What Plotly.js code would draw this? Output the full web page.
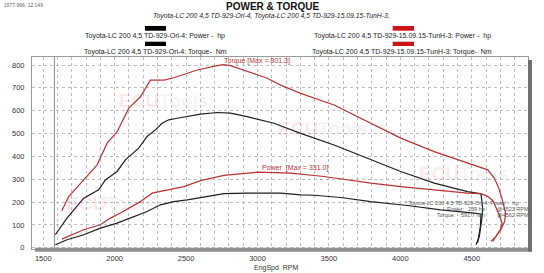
<!DOCTYPE html>
<html>
<head>
<meta charset="utf-8">
<script src="https://cdn.plot.ly/plotly-3.0.1.min.js"></script>
<style>html,body{margin:0;padding:0;background:#fff;}#chart{width:544px;height:273px;}</style>
</head>
<body>
<div id="chart"></div>
<script>
// ---- data ----
const oriTorqueRpm = [1584, 1666, 1783, 1888, 1935, 2017, 2075, 2168, 2227, 2285, 2332, 2379, 2438, 2508, 2601, 2718, 2811, 2928, 3115, 3302, 3536, 3770, 4003, 4237, 4471, 4565, 4577, 4570, 4553, 4530];
const oriTorque    = [57, 130, 217, 254, 297, 334, 385, 436, 487, 516, 545, 560, 567, 574, 585, 592, 589, 574, 545, 501, 450, 392, 334, 283, 246, 236, 170, 122, 49, 13];

const oriPowerRpm = [1584, 1666, 1783, 1900, 2017, 2133, 2227, 2320, 2414, 2508, 2601, 2765, 2928, 3162, 3302, 3396, 3583, 3793, 4050, 4284, 4518, 4565, 4560, 4541];
const oriPower    = [13, 35, 57, 86, 108, 137, 159, 188, 202, 210, 220, 237, 239, 239, 232, 230, 220, 202, 185, 166, 152, 148, 90, 21];

const tunTorqueRpm = [1630, 1678, 1783, 1877, 1947, 2017, 2098, 2180, 2250, 2344, 2402, 2484, 2578, 2718, 2760, 2811, 2905, 3068, 3162, 3302, 3536, 3770, 4003, 4237, 4471, 4612, 4658, 4690, 4712, 4730, 4738, 4730, 4705, 4670, 4635];
const tunTorque    = [162, 224, 297, 363, 458, 508, 610, 661, 734, 734, 742, 759, 778, 797, 801.3, 797, 778, 742, 712, 676, 625, 552, 480, 421, 370, 341, 305, 260, 215, 175, 150, 115, 80, 50, 28];

const tunPowerRpm = [1630, 1783, 1900, 1970, 2040, 2122, 2180, 2262, 2367, 2484, 2601, 2765, 2998, 3232, 3466, 3630, 3793, 4003, 4237, 4471, 4565, 4612, 4650, 4683, 4705, 4712, 4700, 4675, 4647];
const tunPower    = [38, 79, 101, 130, 152, 181, 202, 239, 254, 268, 294, 317, 331, 327, 312, 297, 283, 268, 254, 239, 237, 225, 205, 160, 125, 105, 80, 55, 28];

const yTicks = [0, 100, 200, 300, 400, 500, 600, 700, 800];
const xTicks = [1500, 2000, 2500, 3000, 3500, 4000, 4500];
const cursorRpm = 1577.966;

const titleText = "POWER & TORQUE";
const subtitleText = "Toyota-LC 200 4,5 TD-929-Ori-4, Toyota-LC 200 4,5 TD-929-15.09.15-TunH-3,";
const legendNames = [
  "Toyota-LC 200 4,5 TD-929-Ori-4: Power -  hp",
  "Toyota-LC 200 4,5 TD-929-Ori-4: Torque-  Nm",
  "Toyota-LC 200 4,5 TD-929-15.09.15-TunH-3: Power -  hp",
  "Toyota-LC 200 4,5 TD-929-15.09.15-TunH-3: Torque-  Nm"
];

// ---- styles ----
const FONT = "Liberation Sans, Arial, sans-serif";
const RED = "#b93333";
const BLK = "#1e1e1e";
const GRID = "#bdbdbd";

const traces = [
  {x: oriPowerRpm, y: oriPower, mode: "lines", line: {color: BLK, width: 1.2}, name: legendNames[0]},
  {x: oriTorqueRpm, y: oriTorque, mode: "lines", line: {color: BLK, width: 1.2}, name: legendNames[1]},
  {x: tunPowerRpm, y: tunPower, mode: "lines", line: {color: RED, width: 1.2}, name: legendNames[2]},
  {x: tunTorqueRpm, y: tunTorque, mode: "lines", line: {color: RED, width: 1.2}, name: legendNames[3]}
];

// paper helpers (plot area: x 32..528, y 57..249 px)
const px = v => (v - 32) / 496;
const py = v => (249 - v) / 192;

function wm(cx, cy) {
  return {xref: "paper", yref: "paper", x: px(cx), y: py(cy), xanchor: "center", yanchor: "middle",
    text: '<span style="color:rgba(225,80,80,0.15)">ECU</span><span style="color:rgba(140,140,140,0.11)">Tools</span>',
    showarrow: false, font: {family: FONT, size: 19, weight: "bold"}};
}
function txt(cx, cy, t, size, opts) {
  return Object.assign({xref: "paper", yref: "paper", x: px(cx), y: py(cy), xanchor: "center", yanchor: "middle",
    text: t, showarrow: false, font: {family: FONT, size: size, color: "#222"}}, opts || {});
}

const annotations = [
  wm(163, 100), wm(110, 203), wm(322, 128), wm(463, 173),
  txt(272.5, 6.8, "<b>" + titleText + "</b>", 10, {font: {family: FONT, size: 10, color: "#111"}}),
  txt(271, 16, "<i>" + subtitleText + "</i>", 6.8, {font: {family: FONT, size: 6.8, color: "#222"}}),
  txt(155, 36.3, legendNames[0], 7),
  txt(155, 52, legendNames[1], 7),
  txt(402, 36.3, legendNames[2], 7),
  txt(402, 52, legendNames[3], 7),
  txt(2, 5, "1577.966, 12.149", 5, {xanchor: "left", font: {family: FONT, size: 5, color: "#666"}}),
  txt(257, 61, "Torque [Max = 801.3]", 7, {font: {family: FONT, size: 7, color: RED}}),
  txt(294.5, 168.3, "Power  [Max = 331.0]", 7, {font: {family: FONT, size: 7, color: RED}}),
  txt(461, 203, "'' Toyota-LC 200 4,5 TD-929-Ori-4: Power -  hp", 5.5, {font: {family: FONT, size: 5.5, color: "#555"}}),
  txt(467, 209, "Power:", 5.5, {xanchor: "right", font: {family: FONT, size: 5.5, color: "#555"}}),
  txt(487, 209, "239 hp", 5.5, {xanchor: "right", font: {family: FONT, size: 5.5, color: "#555"}}),
  txt(495, 209, "@4523 RPM", 5.5, {xanchor: "left", font: {family: FONT, size: 5.5, color: "#555"}}),
  txt(458, 215, "Torque:", 5.5, {xanchor: "right", font: {family: FONT, size: 5.5, color: "#555"}}),
  txt(487, 215, "591.7 Nm", 5.5, {xanchor: "right", font: {family: FONT, size: 5.5, color: "#555"}}),
  txt(495, 215, "@4562 RPM", 5.5, {xanchor: "left", font: {family: FONT, size: 5.5, color: "#555"}}),
  txt(276.5, 268, "EngSpd  RPM", 7, {font: {family: FONT, size: 7, color: "#333"}})
];

const shapes = [
  // legend swatches
  {type: "rect", xref: "paper", yref: "paper", x0: px(145), x1: px(166), y0: py(30.7), y1: py(26), fillcolor: "#000", line: {width: 0}},
  {type: "rect", xref: "paper", yref: "paper", x0: px(145), x1: px(166), y0: py(46), y1: py(41.7), fillcolor: "#000", line: {width: 0}},
  {type: "rect", xref: "paper", yref: "paper", x0: px(392.7), x1: px(414), y0: py(30.7), y1: py(26), fillcolor: "#cc1515", line: {width: 0}},
  {type: "rect", xref: "paper", yref: "paper", x0: px(392.7), x1: px(414), y0: py(46), y1: py(41.7), fillcolor: "#cc1515", line: {width: 0}},
  // cursor line
  {type: "line", xref: "x", yref: "paper", x0: cursorRpm, x1: cursorRpm, y0: 0, y1: 1, line: {color: "#8a8a8a", width: 1}},
  // bottom scroll bar and right shadow bar
  {type: "rect", xref: "paper", yref: "paper", x0: px(35), x1: 1, y0: py(251.8), y1: py(247.8), fillcolor: "#8f8f8f", line: {width: 0}},
  {type: "rect", xref: "paper", yref: "paper", x0: 1, x1: px(532), y0: py(251.8), y1: py(60), fillcolor: "#6f6f6f", line: {width: 0}}
];

const layout = {
  width: 544, height: 273,
  margin: {l: 32, r: 16, t: 57, b: 24, pad: 0},
  paper_bgcolor: "#fff", plot_bgcolor: "#fff",
  showlegend: false,
  font: {family: FONT, size: 7.5, color: "#333"},
  xaxis: {
    range: [1421, 4894], tickmode: "array", tickvals: xTicks, ticktext: xTicks.map(String),
    showgrid: true, gridcolor: GRID, griddash: "dot", gridwidth: 1,
    minor: {dtick: 100, tick0: 1500, showgrid: true, gridcolor: GRID, griddash: "dot", gridwidth: 1},
    zeroline: false, showline: true, mirror: true, linecolor: "#9a9a9a", linewidth: 1,
    ticks: "", ticklabelstandoff: 2, tickfont: {family: FONT, size: 7.5, color: "#333"}
  },
  yaxis: {
    range: [-5.3, 835], tickmode: "array", tickvals: yTicks, ticktext: yTicks.map(String),
    showgrid: true, gridcolor: GRID, griddash: "dot", gridwidth: 1,
    zeroline: false, showline: true, mirror: true, linecolor: "#9a9a9a", linewidth: 1,
    ticks: "", ticklabelstandoff: 5, tickfont: {family: FONT, size: 7.5, color: "#333"}
  },
  annotations: annotations,
  shapes: shapes
};

Plotly.newPlot("chart", traces, layout, {displayModeBar: false, staticPlot: true});
</script>
</body>
</html>
